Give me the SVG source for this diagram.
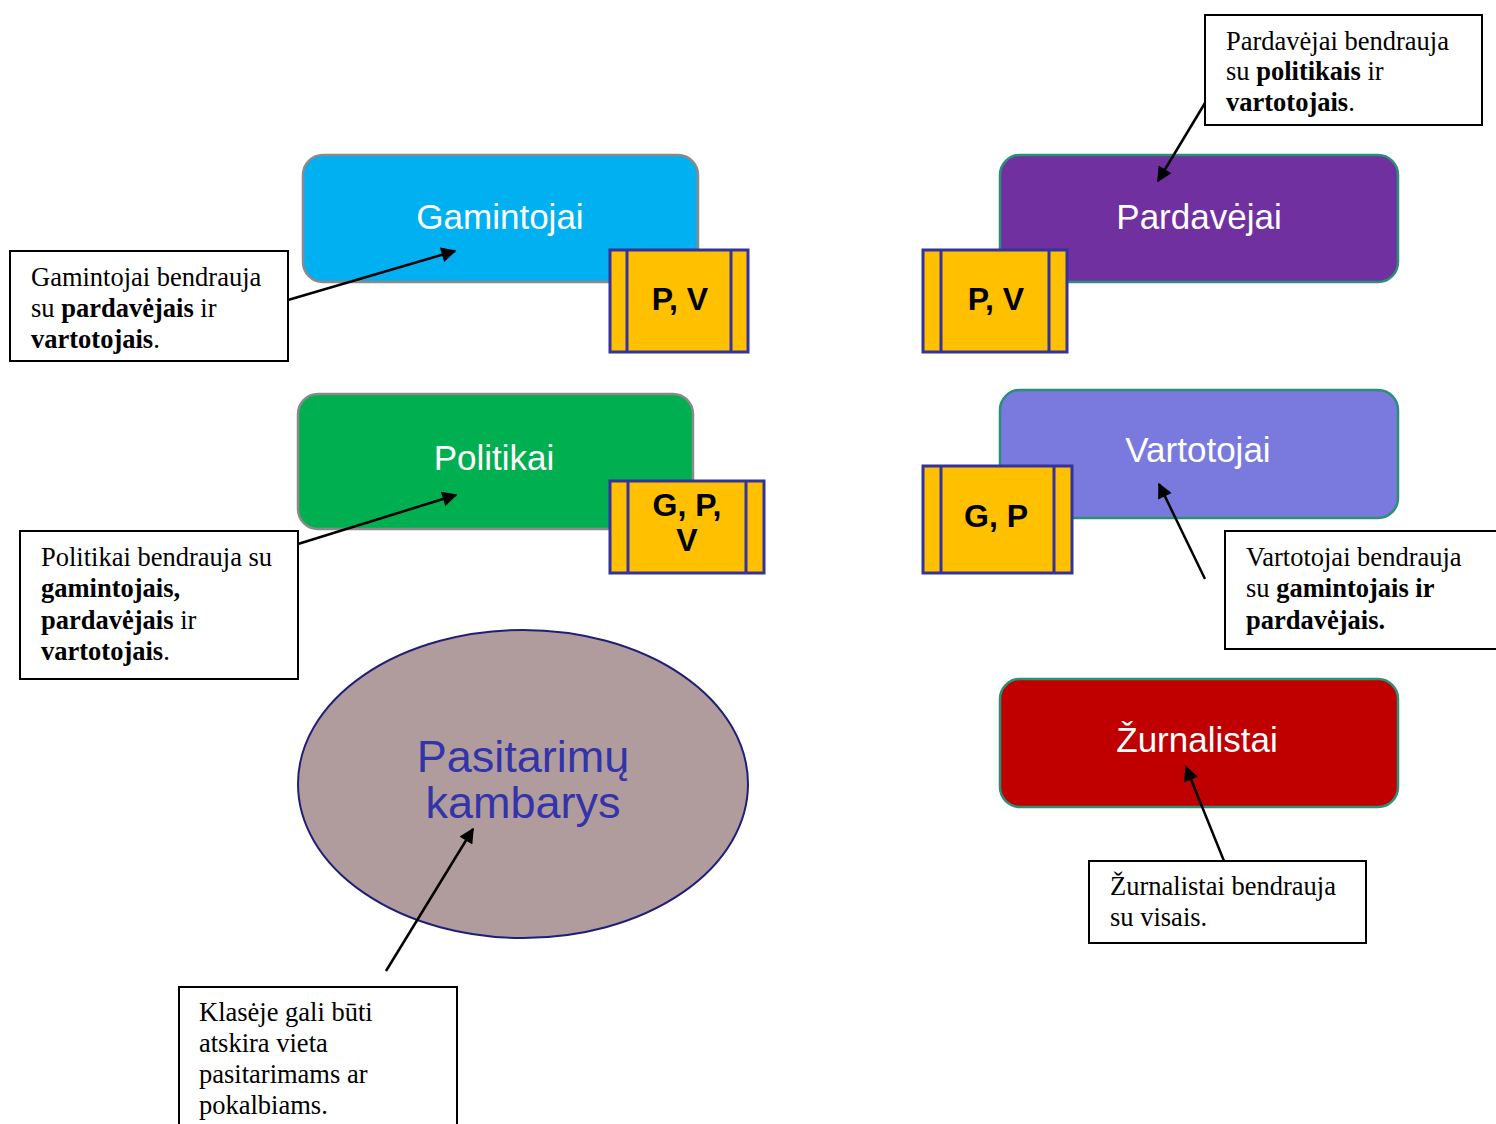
<svg xmlns="http://www.w3.org/2000/svg" width="1496" height="1124" viewBox="0 0 1496 1124">
<defs>
<marker id="ah" viewBox="0 0 10 10" refX="9" refY="5" markerWidth="7" markerHeight="6" markerUnits="strokeWidth" orient="auto">
<path d="M0,0 L10,5 L0,10 z" fill="#000"/>
</marker>
<style>
.title{font-family:"Liberation Sans",Arial,sans-serif;font-size:35px;fill:#fff;text-anchor:middle}
.gray{stroke:#8a8a8a;stroke-width:2.5}
.teal{stroke:#2a8f77;stroke-width:2.5}
.tag{fill:#FFC000;stroke:#33339a;stroke-width:3}
.tagline{stroke:#33339a;stroke-width:3}
.tagt{font-family:"Liberation Sans",Arial,sans-serif;font-size:32px;font-weight:bold;fill:#000;text-anchor:middle}
.note{fill:#fff;stroke:#000;stroke-width:2}
.nt{font-family:"Liberation Serif","Times New Roman",serif;font-size:26.5px;fill:#000}
.b{font-weight:bold}
.conn{stroke:#000;stroke-width:2.5;fill:none;marker-end:url(#ah)}
.room{font-family:"Liberation Sans",Arial,sans-serif;font-size:45px;fill:#3333AA;text-anchor:middle}
</style>
</defs>
<rect width="1496" height="1124" fill="#fff"/>

<g id="gamintojai">
<rect x="303" y="155" width="395" height="127" rx="20" fill="#00B0F0" class="gray"/>
<text x="500" y="229" class="title">Gamintojai</text>
</g>
<g id="tag-gamintojai">
<rect x="610" y="250" width="138" height="102" class="tag"/>
<line x1="627" y1="250" x2="627" y2="352" class="tagline"/>
<line x1="731" y1="250" x2="731" y2="352" class="tagline"/>
<text x="680" y="310" class="tagt">P, V</text>
</g>

<g id="pardavejai">
<rect x="1000" y="155" width="398" height="127" rx="20" fill="#7030A0" class="teal"/>
<text x="1199" y="229" class="title">Pardavėjai</text>
</g>
<g id="tag-pardavejai">
<rect x="923" y="250" width="144" height="102" class="tag"/>
<line x1="941" y1="250" x2="941" y2="352" class="tagline"/>
<line x1="1049" y1="250" x2="1049" y2="352" class="tagline"/>
<text x="996" y="310" class="tagt">P, V</text>
</g>

<g id="politikai">
<rect x="298" y="394" width="395" height="135" rx="20" fill="#00B050" class="gray"/>
<text x="494" y="470" class="title">Politikai</text>
</g>
<g id="tag-politikai">
<rect x="610" y="481" width="154" height="92" class="tag"/>
<line x1="628" y1="481" x2="628" y2="573" class="tagline"/>
<line x1="746" y1="481" x2="746" y2="573" class="tagline"/>
<text x="687" y="516" class="tagt" font-size="31">G, P,</text>
<text x="687" y="551" class="tagt" font-size="31">V</text>
</g>

<g id="vartotojai">
<rect x="1000" y="390" width="398" height="128" rx="20" fill="#7A7ADE" class="teal"/>
<text x="1198" y="462" class="title">Vartotojai</text>
</g>
<g id="tag-vartotojai">
<rect x="923" y="466" width="149" height="107" class="tag"/>
<line x1="941" y1="466" x2="941" y2="573" class="tagline"/>
<line x1="1054" y1="466" x2="1054" y2="573" class="tagline"/>
<text x="996" y="527" class="tagt">G, P</text>
</g>

<g id="pasitarimu-kambarys">
<ellipse cx="523" cy="784" rx="225" ry="154" fill="#B09C9C" stroke="#1f1f78" stroke-width="2"/>
<text x="523" y="772" class="room">Pasitarimų</text>
<text x="523" y="818" class="room">kambarys</text>
</g>

<g id="zurnalistai">
<rect x="1000" y="679" width="398" height="128" rx="20" fill="#C00000" class="teal"/>
<text x="1197" y="752" class="title">Žurnalistai</text>
</g>

<g id="note-gamintojai">
<rect x="10" y="251" width="278" height="110" class="note"/>
<text class="nt"><tspan x="31" y="286">Gamintojai bendrauja</tspan><tspan x="31" y="317">su <tspan class="b">pardavėjais</tspan> ir</tspan><tspan x="31" y="348"><tspan class="b">vartotojais</tspan>.</tspan></text>
</g>

<g id="note-pardavejai">
<rect x="1205" y="15" width="277" height="110" class="note"/>
<text class="nt"><tspan x="1226" y="50">Pardavėjai bendrauja</tspan><tspan x="1226" y="80">su <tspan class="b">politikais</tspan> ir</tspan><tspan x="1226" y="111"><tspan class="b">vartotojais</tspan>.</tspan></text>
</g>

<g id="note-politikai">
<rect x="20" y="531" width="278" height="148" class="note"/>
<text class="nt"><tspan x="41" y="566">Politikai bendrauja su</tspan><tspan x="41" y="597" class="b">gamintojais,</tspan><tspan x="41" y="629"><tspan class="b">pardavėjais</tspan> ir</tspan><tspan x="41" y="660"><tspan class="b">vartotojais</tspan>.</tspan></text>
</g>

<g id="note-vartotojai">
<rect x="1225" y="531" width="280" height="118" class="note"/>
<text class="nt"><tspan x="1246" y="566">Vartotojai bendrauja</tspan><tspan x="1246" y="597">su <tspan class="b">gamintojais ir</tspan></tspan><tspan x="1246" y="629" class="b">pardavėjais.</tspan></text>
</g>

<g id="note-zurnalistai">
<rect x="1089" y="861" width="277" height="82" class="note"/>
<text class="nt"><tspan x="1110" y="895">Žurnalistai bendrauja</tspan><tspan x="1110" y="926">su visais.</tspan></text>
</g>

<g id="note-kambarys">
<rect x="179" y="987" width="278" height="150" class="note"/>
<text class="nt"><tspan x="199" y="1021">Klasėje gali būti</tspan><tspan x="199" y="1052">atskira vieta</tspan><tspan x="199" y="1083">pasitarimams ar</tspan><tspan x="199" y="1114">pokalbiams.</tspan></text>
</g>

<g id="connectors">
<line x1="288" y1="300" x2="455" y2="251" class="conn"/>
<line x1="1205" y1="103" x2="1158" y2="181" class="conn"/>
<line x1="298" y1="544" x2="456" y2="495" class="conn"/>
<line x1="1205" y1="579" x2="1159" y2="484" class="conn"/>
<line x1="1224" y1="861" x2="1186" y2="767" class="conn"/>
<line x1="386" y1="971" x2="473" y2="829" class="conn"/>
</g>
</svg>
